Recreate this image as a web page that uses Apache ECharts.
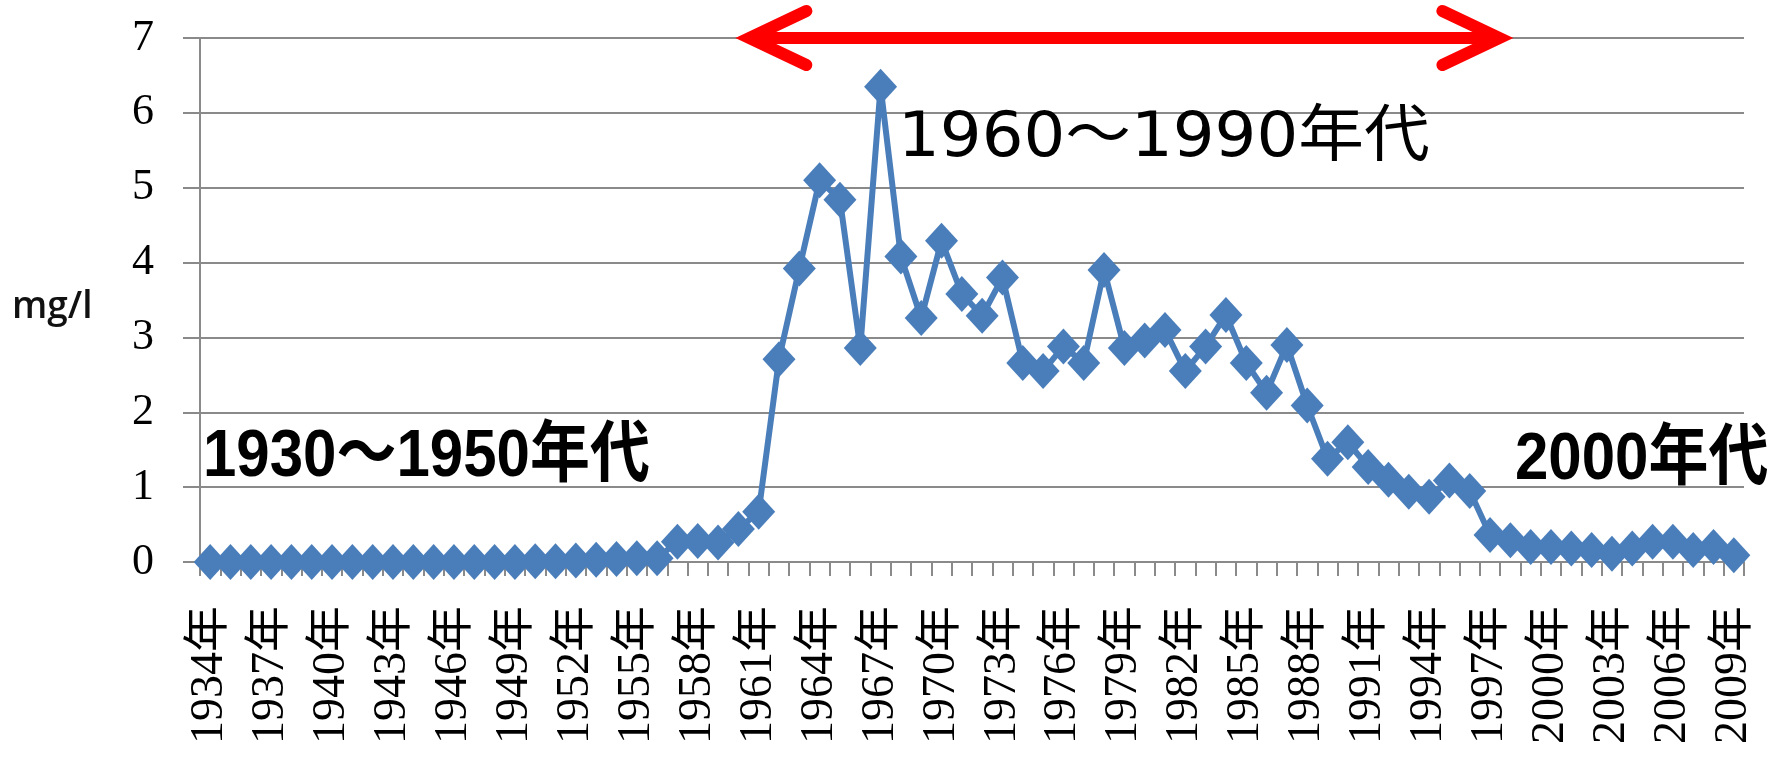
<!DOCTYPE html>
<html>
<head>
<meta charset="utf-8">
<script src="https://cdn.jsdelivr.net/npm/echarts@6/dist/echarts.min.js"></script>
<style>
  html, body { margin: 0; padding: 0; background: #fff; }
  #chart { width: 1785px; height: 757px; }
</style>
</head>
<body>
<div id="chart"></div>
<script>
// Years on the category axis
const years = [
  '1934年','1935年','1936年','1937年','1938年','1939年','1940年','1941年','1942年','1943年',
  '1944年','1945年','1946年','1947年','1948年','1949年','1950年','1951年','1952年','1953年',
  '1954年','1955年','1956年','1957年','1958年','1959年','1960年','1961年','1962年','1963年',
  '1964年','1965年','1966年','1967年','1968年','1969年','1970年','1971年','1972年','1973年',
  '1974年','1975年','1976年','1977年','1978年','1979年','1980年','1981年','1982年','1983年',
  '1984年','1985年','1986年','1987年','1988年','1989年','1990年','1991年','1992年','1993年',
  '1994年','1995年','1996年','1997年','1998年','1999年','2000年','2001年','2002年','2003年',
  '2004年','2005年','2006年','2007年','2008年','2009年'
];

// Annual concentration (mg/l)
const concentration = [
  0, 0, 0, 0, 0, 0, 0, 0, 0, 0,
  0, 0, 0, 0, 0, 0, 0.01, 0.01, 0.02, 0.03,
  0.04, 0.05, 0.05, 0.27, 0.28, 0.26, 0.44, 0.67, 2.71, 3.92,
  5.1, 4.84, 2.86, 6.35, 4.08, 3.26, 4.29, 3.58, 3.29, 3.8,
  2.66, 2.55, 2.88, 2.66, 3.9, 2.86, 2.96, 3.1, 2.55, 2.88,
  3.3, 2.66, 2.26, 2.9, 2.09, 1.38, 1.6, 1.27, 1.1, 0.94,
  0.87, 1.09, 0.95, 0.36, 0.29, 0.2, 0.2, 0.18, 0.16, 0.11,
  0.18, 0.27, 0.27, 0.16, 0.2, 0.09
];

// Value axis range and step
const yMin = 0;
const yMax = 7;
const yStep = 1;
const yUnit = 'mg/l';

// Period captions
const periodLabels = ['1930～1950年代', '1960～1990年代', '2000年代'];

// Span of the highlighted period (arrow ends) and its level on the value axis
const arrowSpan = ['1960年', '1998年'];
const arrowLevel = 7;

const gray = '#8a8a8a';
const blue = '#4a7ebb';
const boldCaption = 'bold 60px "Liberation Sans", "Noto Sans CJK JP", sans-serif';

const chart = echarts.init(document.getElementById('chart'), null, { renderer: 'canvas' });

const baseGraphics = [
  {
    type: 'text', x: 12, y: 307, z: 10,
    style: { text: yUnit, x: 0, y: 0, align: 'left', verticalAlign: 'middle',
             font: '600 37px "Open Sans", "Liberation Sans", sans-serif', fill: '#111' }
  },
  {
    type: 'text', x: 203, y: 457, scaleY: 1.12, z: 10,
    style: { text: periodLabels[0], x: 0, y: 0, align: 'left', verticalAlign: 'middle',
             font: boldCaption, fill: '#000' }
  },
  {
    type: 'text', x: 898, y: 140, scaleX: 1.06, z: 10,
    style: { text: periodLabels[1], x: 0, y: 0, align: 'left', verticalAlign: 'middle',
             font: '62px "DejaVu Sans", "Noto Sans CJK JP", sans-serif', fill: '#000' }
  },
  {
    type: 'text', x: 1515, y: 460, scaleY: 1.12, z: 10,
    style: { text: periodLabels[2], x: 0, y: 0, align: 'left', verticalAlign: 'middle',
             font: boldCaption, fill: '#000' }
  }
];

chart.setOption({
  animation: false,
  backgroundColor: '#ffffff',
  grid: { left: 200, right: 41, top: 38, bottom: 195, containLabel: false },
  xAxis: {
    type: 'category',
    data: years,
    boundaryGap: true,
    axisLine: { show: true, lineStyle: { color: gray, width: 2 } },
    axisTick: { show: true, interval: 0, length: 14, alignWithLabel: false,
                lineStyle: { color: gray, width: 2 } },
    axisLabel: {
      interval: 2, rotate: 90, margin: 44,
      fontFamily: '"Liberation Serif", "Noto Sans CJK JP", serif',
      fontSize: 46, color: '#000'
    },
    splitLine: { show: false }
  },
  yAxis: {
    type: 'value',
    min: yMin, max: yMax, interval: yStep,
    axisLine: { show: true, lineStyle: { color: gray, width: 2 } },
    axisTick: { show: true, length: 17, lineStyle: { color: gray, width: 2 } },
    axisLabel: {
      margin: 46,
      fontFamily: '"Liberation Serif", serif',
      fontSize: 44, color: '#000'
    },
    splitLine: { show: true, lineStyle: { color: gray, width: 2 } }
  },
  series: [{
    type: 'line',
    data: concentration,
    symbol: 'diamond',
    symbolSize: [33, 36],
    showAllSymbol: true,
    lineStyle: { color: blue, width: 6 },
    itemStyle: { color: blue },
    z: 3
  }],
  graphic: baseGraphics
});

// Double-headed arrow marking the highlighted period, placed through the axes
const i0 = years.indexOf(arrowSpan[0]);
const i1 = years.indexOf(arrowSpan[1]);
const pA = chart.convertToPixel({ gridIndex: 0 }, [i0, arrowLevel]);
const pB = chart.convertToPixel({ gridIndex: 0 }, [i1, arrowLevel]);
const inset = 11;
const armX = 57, armY = 27;
const xl = pA[0] + inset, xr = pB[0] - inset, ya = pA[1];
const red = '#ff0000';
const arrowStyle = { stroke: red, lineWidth: 12, lineCap: 'round', lineJoin: 'miter', fill: null };

chart.setOption({
  graphic: baseGraphics.concat([
    { type: 'line', z: 20, shape: { x1: xl + 4, y1: ya, x2: xr - 4, y2: ya },
      style: { stroke: red, lineWidth: 12, lineCap: 'butt' } },
    { type: 'polyline', z: 20,
      shape: { points: [[xl + armX, ya - armY], [xl, ya], [xl + armX, ya + armY]] },
      style: arrowStyle },
    { type: 'polyline', z: 20,
      shape: { points: [[xr - armX, ya - armY], [xr, ya], [xr - armX, ya + armY]] },
      style: arrowStyle }
  ])
});
</script>
</body>
</html>
